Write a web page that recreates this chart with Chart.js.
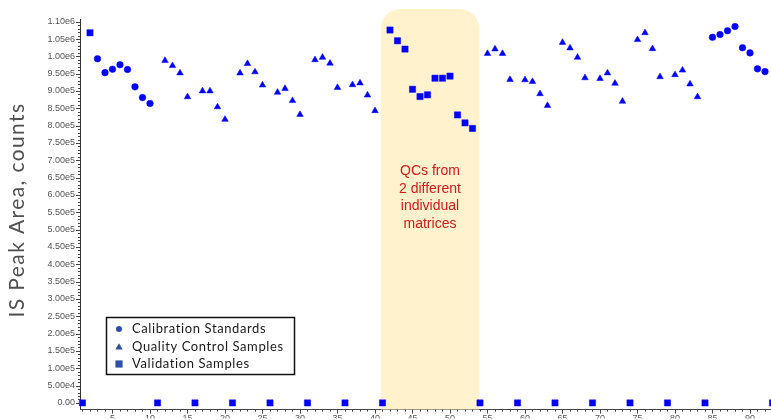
<!DOCTYPE html>
<html>
<head>
<meta charset="utf-8">
<script src="https://cdn.jsdelivr.net/npm/chart.js@4/dist/chart.umd.min.js"></script>
<style>
html, body { margin: 0; padding: 0; background: #fff; }
canvas { display: block; }
</style>
</head>
<body>
<canvas id="chart" width="771" height="420"></canvas>
<script>
// sample numbers and IS peak areas per sample type
const calSample = [3, 4, 5, 6, 7, 8, 9, 10, 85, 86, 87, 88, 89, 90, 91, 92];
const calArea = [993000, 953000, 963000, 976000, 962000, 912000, 881000, 864000,
    1055000, 1063000, 1074000, 1086000, 1025000, 1010000, 964000, 956000];

const qcSample = [12, 13, 14, 15, 17, 18, 19, 20, 22, 23, 24, 25, 27, 28, 29, 30,
    32, 33, 34, 35, 37, 38, 39, 40, 55, 56, 57, 58, 60, 61, 62, 63,
    65, 66, 67, 68, 70, 71, 72, 73, 75, 76, 77, 78, 80, 81, 82, 83];
const qcArea = [988000, 973000, 952000, 883000, 900000, 900000, 854000, 818000,
    952000, 979000, 955000, 917000, 896000, 907000, 872000, 832000,
    990000, 997000, 980000, 910000, 918000, 923000, 888000, 843000,
    1008000, 1021000, 1008000, 933000, 932000, 927000, 892000, 858000,
    1040000, 1024000, 997000, 938000, 936000, 952000, 922000, 870000,
    1048000, 1068000, 1022000, 941000, 947000, 960000, 920000, 883000];

const valSample = [1, 2, 11, 16, 21, 26, 31, 36, 41, 42, 43, 44, 45, 46, 47, 48,
    49, 50, 51, 52, 53, 54, 59, 64, 69, 74, 79, 84, 93];
const valArea = [0, 1068000, 0, 0, 0, 0, 0, 0, 0, 1076000, 1045000, 1021000, 905000, 884000,
    889000, 937000, 937000, 943000, 831000, 808000, 792000, 0, 0, 0, 0, 0, 0, 0, 0];

const seriesNames = ["Calibration Standards", "Quality Control Samples", "Validation Samples"];
const yTitle = "IS Peak Area, counts";
const noteLines = ["QCs from", "2 different", "individual", "matrices"];
const noteRange = [40.76, 53.9];

const xTicks = [5, 10, 15, 20, 25, 30, 35, 40, 45, 50, 55, 60, 65, 70, 75, 80, 85, 90];
const yTicks = [];
for (let v = 0; v <= 1100000; v += 50000) yTicks.push(v);

const BLUE = "#0000ff";
const LEGEND_BLUE = "#2f4fa3";

function toPoints(xs, ys) {
    return xs.map((s, i) => ({x: s, y: ys[i]}));
}

function yLabel(v) {
    if (v === 0) return "0.00";
    return v.toExponential(2).replace("+", "");
}

// shaded block behind the two-matrix QC run, with its note
const shade = {
    id: "shade",
    beforeDatasetsDraw(chart) {
        const {ctx, scales: {x}, chartArea} = chart;
        const x0 = x.getPixelForValue(noteRange[0]);
        const x1 = x.getPixelForValue(noteRange[1]);
        const top = 9, bottom = chartArea.bottom, r = 20;
        ctx.save();
        ctx.fillStyle = "#fff2cc";
        ctx.beginPath();
        ctx.moveTo(x0, bottom);
        ctx.lineTo(x0, top + r);
        ctx.arcTo(x0, top, x0 + r, top, r);
        ctx.lineTo(x1 - r, top);
        ctx.arcTo(x1, top, x1, top + r, r);
        ctx.lineTo(x1, bottom);
        ctx.closePath();
        ctx.fill();
        ctx.restore();
    },
    afterDatasetsDraw(chart) {
        const {ctx, scales: {x, y}} = chart;
        const cx = x.getPixelForValue((noteRange[0] + noteRange[1]) / 2);
        let cy = y.getPixelForValue(668000);
        ctx.save();
        ctx.fillStyle = "#d41a1a";
        ctx.font = "14px 'Liberation Sans', Arial, sans-serif";
        ctx.textAlign = "center";
        ctx.textBaseline = "middle";
        noteLines.forEach(line => {
            ctx.fillText(line, cx, cy);
            cy += 17.6;
        });
        ctx.restore();
    }
};

function drawMarker(ctx, style, px, py, r) {
    ctx.beginPath();
    if (style === "circle") {
        ctx.arc(px, py, r, 0, Math.PI * 2);
    } else if (style === "triangle") {
        ctx.moveTo(px, py - r);
        ctx.lineTo(px + r * 0.866, py + r / 2);
        ctx.lineTo(px - r * 0.866, py + r / 2);
        ctx.closePath();
    } else {
        ctx.rect(px - r, py - r, r * 2, r * 2);
    }
    ctx.fill();
}

// minor ticks, the spaced-out axis title and the boxed legend
const extras = {
    id: "extras",
    afterDraw(chart) {
        const {ctx, scales: {x, y}, chartArea} = chart;
        ctx.save();
        ctx.strokeStyle = "#444";
        ctx.lineWidth = 1;
        ctx.beginPath();
        for (let v = 0; v <= 1100000; v += 10000) {
            const py = Math.round(y.getPixelForValue(v)) + 0.5;
            const len = v % 50000 === 0 ? 4 : 2;
            ctx.moveTo(chartArea.left - len, py);
            ctx.lineTo(chartArea.left, py);
        }
        for (let s = 1; s <= 92; s++) {
            const px = Math.round(x.getPixelForValue(s)) + 0.5;
            const len = s % 5 === 0 ? 4 : 2;
            ctx.moveTo(px, chartArea.bottom);
            ctx.lineTo(px, chartArea.bottom + len);
        }
        ctx.stroke();

        // y title
        ctx.save();
        ctx.translate(17, 210);
        ctx.rotate(-Math.PI / 2);
        ctx.fillStyle = "#505050";
        ctx.font = "21px Lato, sans-serif";
        ctx.letterSpacing = "1.4px";
        ctx.textAlign = "center";
        ctx.textBaseline = "middle";
        ctx.fillText(yTitle, 0, 0);
        ctx.restore();

        // legend
        const lx = 106.5, ly = 317.5, lw = 188, lh = 57;
        ctx.fillStyle = "#fff";
        ctx.fillRect(lx, ly, lw, lh);
        ctx.strokeStyle = "#111";
        ctx.lineWidth = 1.5;
        ctx.strokeRect(lx, ly, lw, lh);
        const styles = ["circle", "triangle", "rect"];
        const sizes = [3, 4.2, 3.6];
        ctx.font = "13px Lato, sans-serif";
        ctx.letterSpacing = "0.6px";
        ctx.textBaseline = "middle";
        styles.forEach((st, i) => {
            const rowY = 329 + i * 17.5;
            ctx.fillStyle = LEGEND_BLUE;
            drawMarker(ctx, st, 119, rowY + (st === "triangle" ? 1 : 0), sizes[i]);
            ctx.fillStyle = "#1a1a1a";
            ctx.fillText(seriesNames[i], 132, rowY);
        });
        ctx.restore();
    }
};

const dsBase = {
    backgroundColor: BLUE,
    borderColor: BLUE,
    borderWidth: 0.5,
    showLine: false,
    clip: false
};

new Chart(document.getElementById("chart"), {
    type: "scatter",
    data: {
        datasets: [
            {...dsBase, label: seriesNames[0], data: toPoints(calSample, calArea), pointStyle: "circle", pointRadius: 3.3},
            {...dsBase, label: seriesNames[1], data: toPoints(qcSample, qcArea), pointStyle: "triangle", pointRadius: 3.8},
            {...dsBase, label: seriesNames[2], data: toPoints(valSample, valArea), pointStyle: "rect", pointRadius: 4.4}
        ]
    },
    options: {
        responsive: false,
        animation: false,
        devicePixelRatio: 1,
        layout: {autoPadding: false, padding: {top: 19, left: 0, right: 0, bottom: 0}},
        plugins: {
            legend: {display: false},
            tooltip: {enabled: false}
        },
        scales: {
            x: {
                type: "linear",
                min: 0.667,
                max: 92.8,
                afterFit: s => { s.height = 9; },
                afterBuildTicks: s => { s.ticks = xTicks.map(v => ({value: v})); },
                grid: {display: false, drawTicks: false},
                border: {display: true, color: "#444", width: 1},
                ticks: {
                    padding: 4,
                    color: "#555",
                    font: {family: "'Liberation Sans', Arial, sans-serif", size: 9},
                    maxRotation: 0,
                    autoSkip: false
                }
            },
            y: {
                type: "linear",
                min: -19300,
                max: 1107800,
                afterFit: s => { s.width = 80; },
                afterBuildTicks: s => { s.ticks = yTicks.map(v => ({value: v})); },
                grid: {display: false, drawTicks: false},
                border: {display: true, color: "#333", width: 1},
                ticks: {
                    padding: 5,
                    color: "#555",
                    font: {family: "'Liberation Sans', Arial, sans-serif", size: 9},
                    autoSkip: false,
                    callback: v => yLabel(v)
                }
            }
        }
    },
    plugins: [shade, extras]
});
</script>
</body>
</html>
